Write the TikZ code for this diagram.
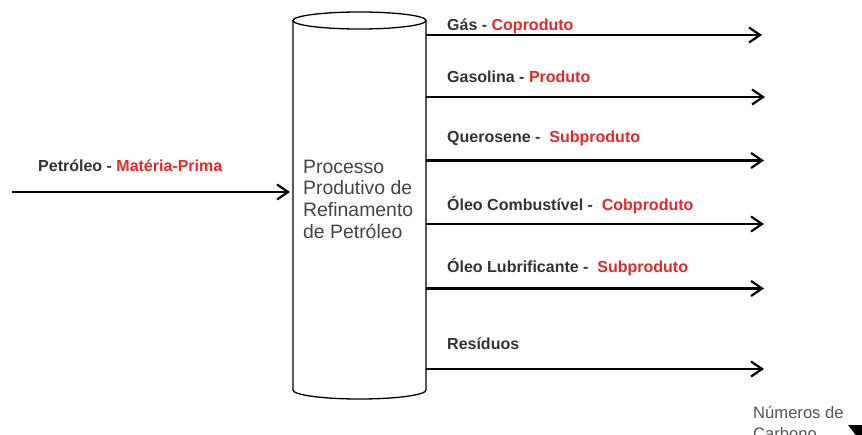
\documentclass[tikz,border=0pt]{standalone}
\usepackage{fontspec}
\setmainfont{Liberation Sans}
\usetikzlibrary{arrows.meta}
\definecolor{txtdark}{HTML}{333333}
\definecolor{procgray}{HTML}{444444}
\definecolor{prodred}{RGB}{230,40,40}
\definecolor{notegray}{HTML}{555555}
\newcommand\redpart[1]{\textcolor{prodred}{#1}}

\begin{document}
\begin{tikzpicture}[x=1pt,y=-1pt,
  flow/.style={line width=2.2pt,-{Straight Barb[length=11pt,width=15pt]}},
  outline/.style={line width=1.3pt,draw=black},
  lbl/.style={anchor=base west,inner sep=0pt,font=\fontsize{16}{19}\selectfont\bfseries,text=txtdark},
  ]
\useasboundingbox (0,0) rectangle (862,434);
\clip (0,0) rectangle (862,434);
\fill[white] (0,0) rectangle (862,434);

% refining unit (cylinder)
\node[minimum width=133pt, minimum height=369.5pt, inner sep=0pt, outer sep=0pt] (cyl) at (359.5,205.25) {};
\draw[outline, fill=white] (293,20.5) -- (293,390)
  .. controls (293,394.97) and (322.8,399) .. (359.5,399)
  .. controls (396.2,399) and (426,394.97) .. (426,390) -- (426,20.5);
\draw[outline, fill=white] (359.5,20.5) ellipse [x radius=66.5pt, y radius=8.5pt];

\node[anchor=north west, inner sep=0pt, align=left,
      font=\fontsize{19.4}{21.8}\selectfont, text=procgray] (proctext)
  at (303,159.6) {Processo\\Produtivo de\\Refinamento\\de Petróleo};

% input and output streams
\coordinate (in) at (12,192);
\coordinate (o1) at (762,35);
\coordinate (o2) at (765,97);
\coordinate (o3) at (764,160.5);
\coordinate (o4) at (764,224);
\coordinate (o5) at (764,288.5);
\coordinate (o6) at (764,369);

\draw[flow, shorten >=3pt] (in) -- (in -| cyl.west);
\foreach \o in {o1,o2,o3,o4,o5,o6}
  \draw[flow] (cyl.east |- \o) -- (\o);

\node[lbl] (l0) at (38,171) {Petróleo - \redpart{Matéria-Prima}};
\node[lbl] (l1) at (447,30.5) {Gás - \redpart{Coproduto}};
\node[lbl] (l2) at (447,82) {Gasolina - \redpart{Produto}};
\node[lbl] (l3) at (447,142.5) {Querosene -\ \ \redpart{Subproduto}};
\node[lbl] (l4) at (447,210) {Óleo Combustível -\ \ \redpart{Cobproduto}};
\node[lbl] (l5) at (447,272) {Óleo Lubrificante -\ \ \redpart{Subproduto}};
\node[lbl] (l6) at (447,349.5) {Resíduos};

% carbon-number note
\node[anchor=north west, inner sep=0pt, align=left,
      font=\fontsize{16.6}{21}\selectfont, text=notegray] (note)
  at (753,405.7) {Números de\\Carbono};
\fill (848,425) -- (890,425) -- (869,452) -- cycle;
\end{tikzpicture}
\end{document}
